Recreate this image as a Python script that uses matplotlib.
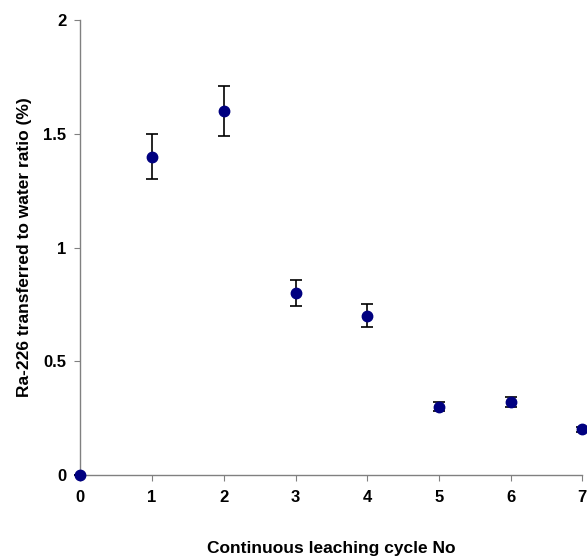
import matplotlib
matplotlib.use("Agg")
import matplotlib.pyplot as plt

plt.rcParams['font.family'] = ['Liberation Sans', 'DejaVu Sans']
plt.rcParams['font.weight'] = 'bold'

# Leaching cycle number and Ra-226 transferred to water (%)
cycles = [0, 1, 2, 3, 4, 5, 6, 7]
transferred = [0.0, 1.40, 1.60, 0.80, 0.70, 0.30, 0.32, 0.20]
errors = [0.0, 0.10, 0.11, 0.057, 0.05, 0.02, 0.022, 0.01]

x_ticks = [0, 1, 2, 3, 4, 5, 6, 7]
y_ticks = [0, 0.5, 1, 1.5, 2]
y_tick_labels = ["0", "0.5", "1", "1.5", "2"]

fig = plt.figure(figsize=(5.87, 5.6), dpi=100)
ax = fig.add_axes([0.137, 0.152, 0.855, 0.812])

ax.errorbar(cycles, transferred, yerr=errors, fmt='o', color='#000080',
            markersize=7.5, ecolor='black', elinewidth=1.2, capsize=4,
            capthick=1.2, clip_on=False, zorder=3)

ax.set_xlim(0, 7)
ax.set_ylim(0, 2)
ax.set_xticks(x_ticks)
ax.set_yticks(y_ticks)
ax.set_yticklabels(y_tick_labels)

for side in ['top', 'right']:
    ax.spines[side].set_visible(False)
for side in ['left', 'bottom']:
    ax.spines[side].set_color('#808080')
    ax.spines[side].set_linewidth(1.0)

ax.tick_params(axis='both', direction='out', length=4, color='#808080',
               labelsize=12)
ax.tick_params(axis='x', pad=7)
ax.tick_params(axis='y', pad=6)

ax.set_xlabel("Continuous leaching cycle No", fontsize=12.5, fontweight='bold',
              labelpad=26)
ax.set_ylabel("Ra-226 transferred to water ratio (%)", fontsize=12.5,
              fontweight='bold', labelpad=8)

fig.savefig("out.png", dpi=100)
